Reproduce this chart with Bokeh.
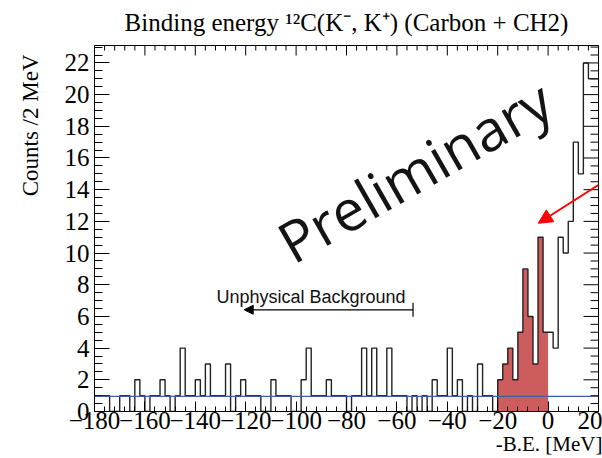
import numpy as np
from bokeh.plotting import figure
from bokeh.models import (Range1d, SingleIntervalTicker, Label, Arrow,
                          NormalHead, TeeHead, Span, Title)
from bokeh.embed import file_html
from bokeh.resources import INLINE

# ---------------- data ----------------
bin_lo = -180          # MeV, left edge of first bin
bin_width = 2          # MeV per bin
counts = [1, 1, 1, 0, 0, 1, 1, 0, 2, 1, 0, 1, 1, 2, 1, 0, 1, 4, 1, 1, 2, 1, 3, 1, 1,
          1, 3, 0, 1, 2, 1, 1, 1, 0, 0, 2, 1, 1, 1, 0, 0, 2, 4, 1, 1, 1, 2, 1, 1, 1,
          0, 1, 1, 4, 1, 4, 1, 1, 4, 1, 1, 1, 0, 1, 0, 1, 0, 2, 1, 1, 4, 1, 2, 0, 1,
          0, 3, 1, 1, 0, 2, 3, 4, 2, 5, 9, 6, 3, 11, 5, 5, 4, 11, 10, 12, 17, 15, 22, 21, 21]
signal_lo, signal_hi = -20, 0      # shaded bound-region window
fit_level = 0.96                   # flat background fit

x_ticks = list(range(-180, 21, 20))
x_minor = [t for t in range(-180, 21, 4) if t % 20 != 0]
y_ticks = list(range(0, 23, 2))
y_minor = [t / 2 for t in range(0, 47) if t % 4 != 0]
x_tick_labels = {t: ("\u2212%d" % -t if t < 0 else str(t)) for t in x_ticks}
y_tick_labels = {t: str(t) for t in y_ticks}

X0, X1, Y0, Y1 = -180, 20, 0, 23.1

edges = bin_lo + bin_width * np.arange(len(counts) + 1)
cnt = np.array(counts, dtype=float)
step_y = list(counts) + [counts[-1]]
sig_mask = (edges >= signal_lo) & (edges <= signal_hi)
sig_x = edges[sig_mask]
sig_y = np.append(cnt, cnt[-1])[sig_mask]

# ---------------- figure ----------------
W, H = 602, 458
BL, BR, BT, BB = 93, 4, 45, 47
p = figure(width=W, height=H, x_range=Range1d(X0, X1), y_range=Range1d(Y0, Y1),
           output_backend="svg", toolbar_location=None,
           min_border_left=BL, min_border_right=BR, min_border_top=BT, min_border_bottom=BB)
p.xgrid.visible = False
p.ygrid.visible = False
p.outline_line_color = "black"
p.outline_line_width = 1
p.background_fill_color = "white"
p.border_fill_color = "white"

serif = "Liberation Serif"

# title
p.title.text = "Binding energy \u00b9\u00b2C(K\u207b, K\u207a) (Carbon + CH2)"
p.title.text_font = serif
p.title.text_font_size = "25px"
p.title.text_font_style = "normal"
p.title.text_color = "black"
p.title.align = "center"
p.title.vertical_align = "top"
p.title.standoff = 15

xt = SingleIntervalTicker(interval=20, num_minor_ticks=5)
yt = SingleIntervalTicker(interval=2, num_minor_ticks=4)

xa = p.xaxis[0]
xa.ticker = xt
xa.major_label_overrides = x_tick_labels
xa.major_label_text_font = serif
xa.major_label_text_font_size = "25px"
xa.major_label_text_color = "black"
xa.major_tick_in = 10
xa.major_tick_out = 0
xa.minor_tick_in = 5
xa.minor_tick_out = 0
xa.major_label_standoff = 0
xa.axis_line_color = "black"

ya = p.yaxis[0]
ya.ticker = yt
ya.major_label_overrides = y_tick_labels
ya.major_label_text_font = serif
ya.major_label_text_font_size = "25px"
ya.major_label_text_color = "black"
ya.major_tick_in = 15
ya.major_tick_out = 0
ya.minor_tick_in = 8
ya.minor_tick_out = 0
ya.major_label_standoff = 5
ya.axis_line_color = "black"

# axis titles, aligned to the axis ends like the original
p.add_layout(Title(text="-B.E. [MeV]", align="right", vertical_align="top",
                   offset=-4, standoff=0, text_font=serif, text_font_size="21px",
                   text_font_style="normal", text_color="black"), "below")
p.add_layout(Title(text="Counts /2 MeV", align="right", vertical_align="top",
                   offset=9, standoff=34, text_font=serif, text_font_size="23px",
                   text_font_style="normal", text_color="black"), "left")

# ticks on the top and right frame edges (pixel lengths converted to data units)
fw = W - BL - BR
fh = H - BT - BB
dy_px = (Y1 - Y0) / fh
dx_px = (X1 - X0) / fw
p.segment(x0=x_ticks, y0=[Y1] * len(x_ticks), x1=x_ticks, y1=[Y1 - 10 * dy_px] * len(x_ticks),
          line_color="black", line_width=1)
p.segment(x0=x_minor, y0=[Y1] * len(x_minor), x1=x_minor, y1=[Y1 - 5 * dy_px] * len(x_minor),
          line_color="black", line_width=1)
p.segment(x0=[X1] * len(y_ticks), y0=y_ticks, x1=[X1 - 15 * dx_px] * len(y_ticks), y1=y_ticks,
          line_color="black", line_width=1)
p.segment(x0=[X1] * len(y_minor), y0=y_minor, x1=[X1 - 8 * dx_px] * len(y_minor), y1=y_minor,
          line_color="black", line_width=1)

# ---------------- histogram ----------------
p.varea_step(x=sig_x, y1=np.zeros(len(sig_x)), y2=sig_y, step_mode="after",
             fill_color="#cd5c5c")
p.step(x=edges, y=step_y, mode="after", line_color="#222222", line_width=1.4)

p.add_layout(Span(location=fit_level, dimension="width", line_color="#3d5ea8", line_width=1.3))

# ---------------- annotations ----------------
p.add_layout(Label(x=-131.6, y=7.21, text="Unphysical Background",
                   text_font="Liberation Sans", text_font_size="18px", text_color="#111111",
                   text_align="left", text_baseline="alphabetic"))

p.add_layout(Arrow(start=TeeHead(size=14, line_color="black", line_width=1.2),
                   end=NormalHead(size=9, fill_color="black", line_color="black"),
                   x_start=-53.6, y_start=6.42, x_end=-120.6, y_end=6.42,
                   line_color="black", line_width=1.2))

p.add_layout(Label(x=-53, y=15.2, text="Preliminary", angle=0.52,
                   text_font="Open Sans", text_font_size="57px", text_color="#141414",
                   text_align="center", text_baseline="middle"))

p.add_layout(Arrow(end=NormalHead(size=14, fill_color="red", line_color="red"),
                   x_start=21.7, y_start=14.47, x_end=-3.9, y_end=11.88,
                   line_color="red", line_width=2))

open("out.html", "w").write(file_html(p, INLINE))
